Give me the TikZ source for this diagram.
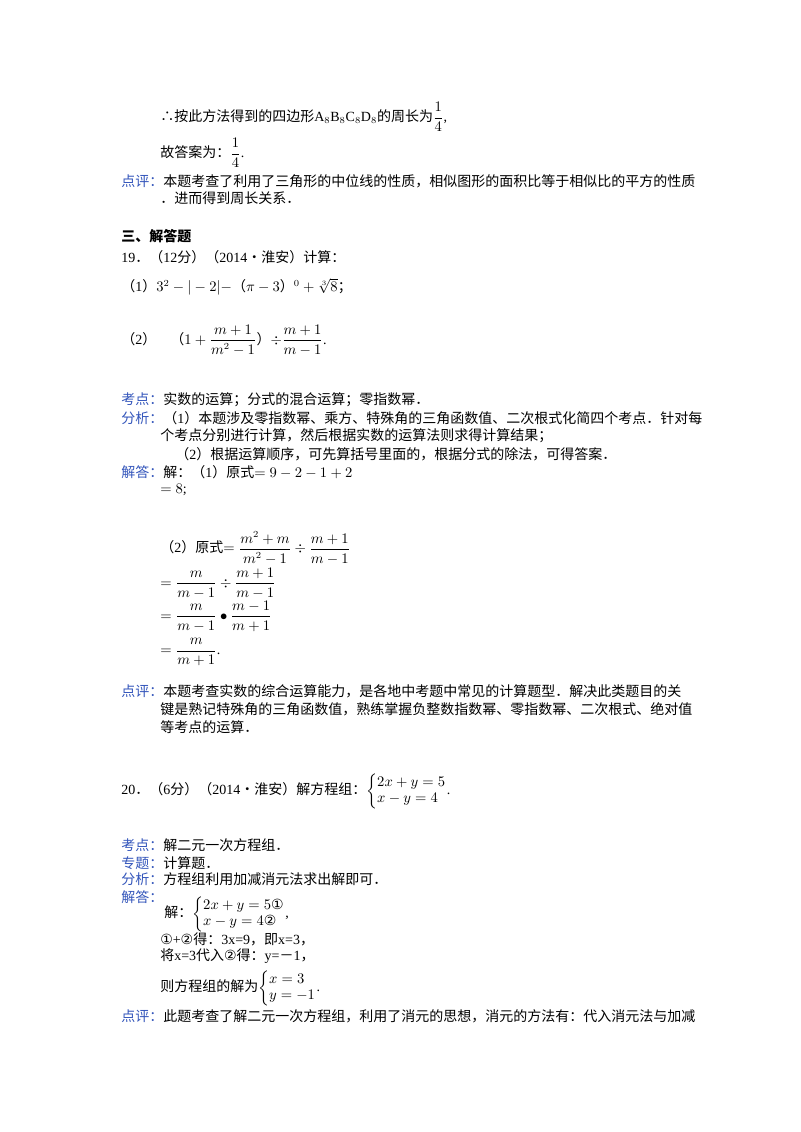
\documentclass[tikz,border=0pt]{standalone}
\usepackage{amsmath}
\usepackage{fontspec}
\setmainfont{Liberation Serif}
\newfontfamily\cjk{Noto Sans CJK SC}
\newfontfamily\djv{DejaVu Sans}
\definecolor{lab}{HTML}{3355BB}
\newcommand{\sys}[1]{\left\{\begin{array}{@{}l@{}}#1\end{array}\right.}
\begin{document}
\begin{tikzpicture}[x=0.75pt,y=-0.75pt,
  t/.style={anchor=west,inner sep=0pt,font=\fontsize{10.5pt}{12pt}\selectfont}]
\useasboundingbox (0,0) rectangle (800,1132);
\fill[white] (0,0) rectangle (800,1132);
\node[t] (a1) at (160,117) {\cjk ∴按此方法得到的四边形\rmfamily A$_8$B$_8$C$_8$D$_8$\cjk 的周长为\rmfamily$\dfrac14$,};
\node[t] (a2) at (160,153) {\cjk 故答案为：\rmfamily$\dfrac14$.};
\node[t] (a3) at (121,181) {\cjk\textcolor{lab}{点评：}本题考查了利用了三角形的中位线的性质，相似图形的面积比等于相似比的平方的性质};
\node[t] (a4) at (160,198) {\cjk ．进而得到周长关系．};
\node[t] (h3) at (121,236) {\cjk\bfseries 三、解答题};
\node[t] (q19) at (121,257) {19{\cjk．（}12\cjk 分）（\rmfamily 2014\cjk •淮安）计算：};
\node[t] (p1) at (121,287) {\cjk（\rmfamily 1\cjk）\rmfamily$3^2-|-2|-$\cjk（\rmfamily$\pi-3$\cjk）\rmfamily$^0+\sqrt[3]{8}$\cjk；};
\node[t] (p2) at (121,340) {\cjk（\rmfamily 2\cjk）\quad（\rmfamily$1+\dfrac{m+1}{m^2-1}$\cjk）\rmfamily$\div\dfrac{m+1}{m-1}$.};
\node[t] (k1) at (121,400) {\cjk\textcolor{lab}{考点：}实数的运算；分式的混合运算；零指数幂．};
\node[t] (f1) at (121,418) {\cjk\textcolor{lab}{分析：}（\rmfamily 1\cjk）本题涉及零指数幂、乘方、特殊角的三角函数值、二次根式化简四个考点．针对每};
\node[t] (f2) at (160,436) {\cjk 个考点分别进行计算，然后根据实数的运算法则求得计算结果；};
\node[t] (f3) at (175,454) {\cjk（\rmfamily 2\cjk）根据运算顺序，可先算括号里面的，根据分式的除法，可得答案．};
\node[t] (j1) at (121,472) {\cjk\textcolor{lab}{解答：}解：（\rmfamily 1\cjk）原式\rmfamily$=9-2-1+2$};
\node[t] (j2) at (160,490) {$=8$;};
\node[t] (j3) at (160,548) {\cjk（\rmfamily 2\cjk）原式\rmfamily$=\dfrac{m^2+m}{m^2-1}\div\dfrac{m+1}{m-1}$};
\node[t] (j4) at (160,583) {$=\dfrac{m}{m-1}\div\dfrac{m+1}{m-1}$};
\node[t] (j5) at (160,616) {$=\dfrac{m}{m-1}\bullet\dfrac{m-1}{m+1}$};
\node[t] (j6) at (160,652) {$=\dfrac{m}{m+1}$.};
\node[t] (d1) at (121,691) {\cjk\textcolor{lab}{点评：}本题考查实数的综合运算能力，是各地中考题中常见的计算题型．解决此类题目的关};
\node[t] (d2) at (160,709) {\cjk 键是熟记特殊角的三角函数值，熟练掌握负整数指数幂、零指数幂、二次根式、绝对值};
\node[t] (d3) at (160,727) {\cjk 等考点的运算．};
\node[t] (q20) at (121,791) {20{\cjk．（}6\cjk 分）（\rmfamily 2014\cjk •淮安）解方程组：\rmfamily$\sys{2x+y=5\\ x-y=4}$.};
\node[t] (k2) at (121,845) {\cjk\textcolor{lab}{考点：}解二元一次方程组．};
\node[t] (z2) at (121,863) {\cjk\textcolor{lab}{专题：}计算题．};
\node[t] (f4) at (121,879) {\cjk\textcolor{lab}{分析：}方程组利用加减消元法求出解即可．};
\node[t] (j7l) at (121,897) {\cjk\textcolor{lab}{解答：}};
\node[t] (j7) at (164,914) {\cjk 解：\rmfamily$\sys{2x+y=5\text{\djv ①}\\ x-y=4\text{\djv ②}}$,};
\node[t] (j8) at (160,939) {{\djv ①}+{\djv ②}\cjk 得：\rmfamily 3x=9\cjk，即\rmfamily x=3\cjk，};
\node[t] (j9) at (160,956) {\cjk 将\rmfamily x=3\cjk 代入{\djv ②}得：\rmfamily y=\cjk －\rmfamily 1\cjk，};
\node[t] (j10) at (160,988) {\cjk 则方程组的解为\rmfamily$\sys{x=3\\ y=-1}$.};
\node[t] (d4) at (121,1016) {\cjk\textcolor{lab}{点评：}此题考查了解二元一次方程组，利用了消元的思想，消元的方法有：代入消元法与加减};
\end{tikzpicture}
\end{document}
